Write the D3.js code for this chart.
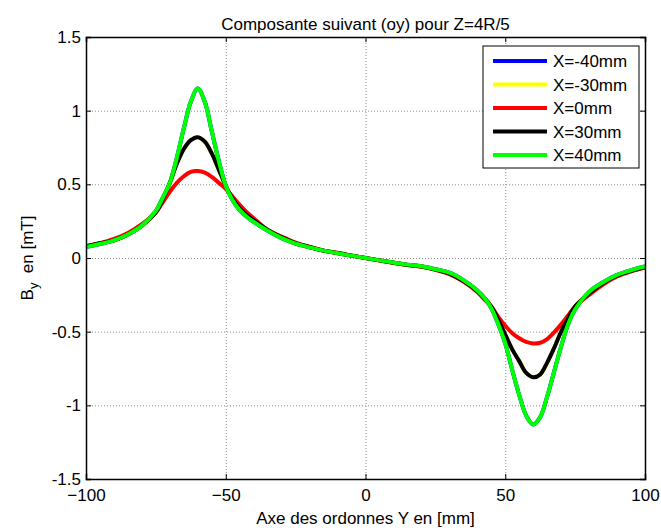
<!DOCTYPE html>
<html>
<head>
<meta charset="utf-8">
<script src="https://cdn.jsdelivr.net/npm/d3@7"></script>
<style>
  html, body { margin: 0; padding: 0; background: #fff; }
  svg { display: block; font-family: "Liberation Sans", Arial, sans-serif; }
</style>
</head>
<body>
<svg id="chart" width="661" height="531"></svg>
<script>
// Position along the Y axis (mm)
const yPos = [-100,-95,-90,-85,-80,-75,-72.5,-70,-67.5,-65,-62.5,-60,-57.5,-55,-52.5,-50,-47.5,
  -45,-42.5,-40,-35,-30,-25,-20,-15,-10,-5,0,5,10,15,20,25,30,35,40,42.5,45,
  47.5,50,52.5,55,57.5,60,62.5,65,67.5,70,72.5,75,80,85,90,95,100];

// By (mT) for each X offset
const byXm40 = [0.075,0.095,0.12,0.16,0.22,0.32,0.41,0.51,0.68,0.88,1.06,1.15,1.06,0.86,0.66,0.49,0.39,
  0.325,0.28,0.245,0.185,0.135,0.097,0.072,0.05,0.032,0.016,0,-0.016,-0.031,-0.045,-0.056,-0.076,-0.10,-0.15,-0.22,-0.27,-0.34,
  -0.45,-0.58,-0.76,-0.93,-1.07,-1.13,-1.08,-0.94,-0.77,-0.60,-0.45,-0.35,-0.23,-0.165,-0.115,-0.083,-0.058];
const byXm30 = [0.08,0.10,0.12,0.16,0.22,0.31,0.40,0.51,0.64,0.74,0.80,0.82,0.79,0.71,0.60,0.49,0.40,
  0.335,0.29,0.255,0.19,0.14,0.10,0.075,0.05,0.033,0.016,0,-0.016,-0.032,-0.047,-0.058,-0.078,-0.105,-0.155,-0.225,-0.27,-0.33,
  -0.42,-0.52,-0.62,-0.70,-0.78,-0.81,-0.79,-0.71,-0.61,-0.50,-0.41,-0.33,-0.24,-0.17,-0.12,-0.088,-0.063];
const byX0 = [0.08,0.10,0.13,0.17,0.23,0.31,0.38,0.45,0.51,0.555,0.585,0.59,0.58,0.55,0.51,0.47,0.415,
  0.36,0.31,0.27,0.19,0.145,0.105,0.075,0.05,0.035,0.017,0,-0.017,-0.033,-0.048,-0.06,-0.08,-0.11,-0.16,-0.23,-0.28,-0.33,
  -0.40,-0.46,-0.51,-0.545,-0.57,-0.58,-0.575,-0.55,-0.505,-0.45,-0.39,-0.33,-0.25,-0.18,-0.125,-0.09,-0.065];
const byX30 = [0.08,0.10,0.12,0.16,0.22,0.31,0.40,0.51,0.64,0.74,0.80,0.82,0.79,0.71,0.60,0.49,0.40,
  0.335,0.29,0.255,0.19,0.14,0.10,0.075,0.05,0.033,0.016,0,-0.016,-0.032,-0.047,-0.058,-0.078,-0.105,-0.155,-0.225,-0.27,-0.33,
  -0.42,-0.52,-0.62,-0.70,-0.78,-0.81,-0.79,-0.71,-0.61,-0.50,-0.41,-0.33,-0.24,-0.17,-0.12,-0.088,-0.063];
const byX40 = [0.075,0.095,0.12,0.16,0.22,0.32,0.41,0.51,0.68,0.88,1.06,1.15,1.06,0.86,0.66,0.49,0.39,
  0.325,0.28,0.245,0.185,0.135,0.097,0.072,0.05,0.032,0.016,0,-0.016,-0.031,-0.045,-0.056,-0.076,-0.10,-0.15,-0.22,-0.27,-0.34,
  -0.45,-0.58,-0.76,-0.93,-1.07,-1.13,-1.08,-0.94,-0.77,-0.60,-0.45,-0.35,-0.23,-0.165,-0.115,-0.083,-0.058];

const seriesNames = ["X=-40mm", "X=-30mm", "X=0mm", "X=30mm", "X=40mm"];
const seriesColors = ["#0000ff", "#ffff00", "#ff0000", "#000000", "#00ff00"];
const seriesValues = [byXm40, byXm30, byX0, byX30, byX40];

const xTicks = [-100, -50, 0, 50, 100];
const yTicks = [-1.5, -1, -0.5, 0, 0.5, 1, 1.5];

const titleText = "Composante suivant (oy) pour Z=4R/5";
const xLabelText = "Axe des ordonnes Y en [mm]";

const svg = d3.select("#chart");
const margin = { left: 86, right: 16, top: 37, bottom: 52 };
const W = 661, H = 531;
const plotW = W - margin.left - margin.right;
const plotH = H - margin.top - margin.bottom;

const x = d3.scaleLinear().domain([-100, 100]).range([0, plotW]);
const y = d3.scaleLinear().domain([-1.5, 1.5]).range([plotH, 0]);

const g = svg.append("g").attr("transform", `translate(${margin.left},${margin.top})`);

// dotted grid
const gridX = g.append("g").attr("transform", `translate(0,${plotH})`)
  .call(d3.axisBottom(x).tickValues(xTicks).tickSize(-plotH).tickFormat(""));
const gridY = g.append("g")
  .call(d3.axisLeft(y).tickValues(yTicks).tickSize(-plotW).tickFormat(""));
[gridX, gridY].forEach(a => {
  a.select(".domain").remove();
  a.selectAll("line").attr("stroke", "#8a8a8a").attr("stroke-width", 1).attr("stroke-dasharray", "1,2");
});

// curves
g.append("clipPath").attr("id", "clip").append("rect").attr("width", plotW).attr("height", plotH);
const line = d3.line().x(d => x(d[0])).y(d => y(d[1])).curve(d3.curveCatmullRom.alpha(0.5));
const curves = g.append("g").attr("clip-path", "url(#clip)");
seriesValues.forEach((vals, i) => {
  curves.append("path")
    .datum(yPos.map((p, k) => [p, vals[k]]))
    .attr("fill", "none")
    .attr("stroke", seriesColors[i])
    .attr("stroke-width", 4)
    .attr("stroke-linejoin", "round")
    .attr("stroke-linecap", "round")
    .attr("d", line);
});

// axes with inward ticks on all four sides
const tick = 5;
const axB = g.append("g").attr("transform", `translate(0,${plotH})`)
  .call(d3.axisBottom(x).tickValues(xTicks).tickSize(-tick).tickPadding(10).tickFormat(d3.format("d")));
const axL = g.append("g")
  .call(d3.axisLeft(y).tickValues(yTicks).tickSize(-tick).tickPadding(5).tickFormat(d => String(d)));
const axT = g.append("g")
  .call(d3.axisTop(x).tickValues(xTicks).tickSize(-tick).tickFormat(""));
const axR = g.append("g").attr("transform", `translate(${plotW},0)`)
  .call(d3.axisRight(y).tickValues(yTicks).tickSize(-tick).tickFormat(""));
[axB, axL, axT, axR].forEach(a => {
  a.select(".domain").attr("stroke", "#000").attr("stroke-width", 1.5);
  a.selectAll(".tick line").attr("stroke", "#000").attr("stroke-width", 1);
  a.selectAll("text").attr("fill", "#000").attr("font-size", 17)
    .attr("font-family", "Liberation Sans, Arial, sans-serif");
});

// title and axis labels
svg.append("text")
  .attr("x", margin.left + plotW / 2).attr("y", 30)
  .attr("text-anchor", "middle").attr("font-size", 17).attr("fill", "#000")
  .text(titleText);

svg.append("text")
  .attr("x", margin.left + plotW / 2).attr("y", 524)
  .attr("text-anchor", "middle").attr("font-size", 17).attr("fill", "#000")
  .text(xLabelText);

const yl = svg.append("text")
  .attr("transform", `translate(33,${margin.top + plotH / 2}) rotate(-90)`)
  .attr("text-anchor", "middle").attr("font-size", 17).attr("fill", "#000");
yl.append("tspan").text("B");
yl.append("tspan").attr("dy", 5).attr("font-size", 13).text("y");
yl.append("tspan").attr("dy", -5).text("\u00a0\u00a0en [mT]");

// legend
const lg = svg.append("g").attr("transform", "translate(483,46)");
lg.append("rect").attr("width", 156).attr("height", 122)
  .attr("fill", "#fff").attr("stroke", "#000").attr("stroke-width", 1);
seriesNames.forEach((name, i) => {
  const cy = 15 + i * 23.5;
  lg.append("line").attr("x1", 10).attr("x2", 64).attr("y1", cy).attr("y2", cy)
    .attr("stroke", seriesColors[i]).attr("stroke-width", 4);
  lg.append("text").attr("x", 70).attr("y", cy + 6)
    .attr("font-size", 17).attr("fill", "#000").text(name);
});
</script>
</body>
</html>
